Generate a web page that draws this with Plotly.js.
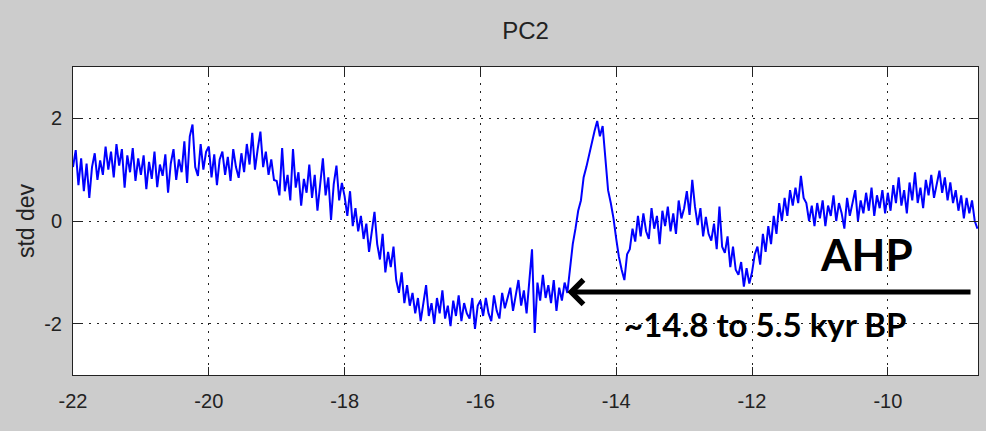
<!DOCTYPE html>
<html>
<head>
<meta charset="utf-8">
<script src="https://cdn.plot.ly/plotly-3.0.1.min.js"></script>
<style>
html, body { margin: 0; padding: 0; background: #cccccc; }
#chart { width: 986px; height: 431px; }
</style>
</head>
<body>
<div id="chart"></div>
<script>
// Time grid (kyr, negative = BP) sampled every 0.04 kyr
const timeStart = -22;
const timeStep = 0.04;

// PC2 values (std dev), one row per kyr
const pc2 = [
  1.05, 1.38, 0.70, 1.22, 0.58, 1.12, 0.45, 1.05, 1.32, 0.80, 1.18, 0.90, 1.45, 1.00, 1.35, 0.85, 1.50, 1.08, 1.40, 0.65, 1.28, 0.95, 1.42, 0.78, 1.22,
  0.90, 1.28, 0.62, 1.15, 0.82, 1.35, 0.66, 1.10, 0.88, 1.30, 0.55, 1.12, 1.40, 0.80, 1.20, 0.95, 1.55, 0.74, 1.65, 1.88, 1.05, 0.88, 1.50, 1.00, 1.35,
  1.45, 0.85, 1.30, 0.70, 1.20, 1.35, 0.90, 1.25, 0.78, 1.40, 1.05, 0.84, 1.32, 0.95, 1.50, 1.10, 1.72, 1.00, 1.40, 1.74, 1.05, 1.35, 0.90, 1.20, 0.80,
  0.78, 0.50, 1.42, 0.58, 0.90, 0.40, 1.40, 0.65, 0.95, 0.30, 0.82, 0.55, 1.10, 0.45, 0.90, 0.20, 0.76, 1.22, 0.50, 0.85, 0.02, 0.72, 1.08, 0.40, 0.74,
  0.48, 0.10, 0.58, -0.10, 0.25, -0.20, 0.10, -0.35, -0.05, -0.60, -0.20, 0.18, -0.45, -0.75, -0.25, -1.00, -0.60, -0.90, -0.50, -1.15, -1.40, -1.00, -1.60, -1.25, -1.65,
  -1.40, -1.80, -1.50, -1.95, -1.55, -1.25, -1.85, -1.60, -2.00, -1.50, -1.80, -1.35, -1.90, -1.65, -2.05, -1.55, -1.85, -1.45, -1.95, -1.60, -1.80, -1.90, -1.50, -2.10, -1.65,
  -1.55, -1.85, -1.50, -1.80, -1.95, -1.45, -1.75, -1.90, -1.40, -1.70, -1.50, -1.30, -1.75, -1.45, -1.15, -1.65, -1.35, -1.80, -1.25, -0.55, -2.18, -1.20, -1.55, -1.05, -1.50,
  -1.25, -1.60, -1.15, -1.75, -1.30, -1.55, -1.20, -1.40, -0.85, -0.45, -0.15, 0.20, 0.40, 0.85, 1.05, 1.30, 1.55, 1.75, 1.95, 1.65, 1.85, 1.25, 0.60, 0.35, 0.05,
  -0.35, -0.70, -0.95, -1.15, -0.65, -0.55, -0.15, -0.40, 0.10, -0.30, 0.15, -0.20, -0.35, 0.25, -0.15, 0.10, -0.45, 0.20, -0.10, 0.28, -0.20, 0.15, -0.25, 0.40, 0.05,
  0.25, 0.58, 0.12, 0.80, 0.28, -0.08, 0.25, -0.30, 0.08, -0.25, -0.38, -0.05, -0.55, 0.28, -0.50, -0.62, -0.30, -0.90, -0.50, -0.95, -1.05, -0.80, -1.28, -0.92, -1.22,
  -1.00, -0.65, -0.50, -0.85, -0.25, -0.60, -0.10, -0.45, 0.10, -0.25, 0.35, 0.00, 0.45, 0.10, 0.60, 0.30, 0.65, 0.35, 0.88, 0.45, 0.35, 0.00, 0.30, -0.10, 0.35,
  0.05, 0.40, -0.10, 0.30, 0.10, 0.50, 0.00, 0.35, 0.15, -0.15, 0.45, 0.10, 0.35, 0.60, 0.00, 0.40, 0.15, 0.55, 0.20, 0.65, 0.10, 0.50, 0.25, 0.60, 0.15,
  0.55, 0.20, 0.70, 0.35, 0.85, 0.30, 0.60, 0.15, 0.75, 0.40, 0.95, 0.35, 0.65, 0.25, 0.80, 0.50, 0.90, 0.45, 0.70, 0.98, 0.55, 0.85, 0.40, 0.75, 0.35,
  0.60, 0.20, 0.50, 0.05, 0.45, 0.15, 0.40, 0.00, -0.15
];

// Axis ticks
const xTicks = [-22, -20, -18, -16, -14, -12, -10];
const yTicks = [-2, 0, 2];

// AHP annotation (arrow from the right edge back to its onset)
const ahpOnset = -14.72;
const ahpArrowTail = -8.76;
const ahpLevel = -1.385;
const ahpLabel = 'AHP';
const ahpRangeLabel = '~14.8 to 5.5 kyr BP';
const ahpLabelPos = [-10.32, -0.65];
const ahpRangePos = [-11.80, -2.0];

const time = pc2.map((_, i) => +(timeStart + i * timeStep).toFixed(2));

const tickFont = { family: '"Liberation Sans", Arial, sans-serif', size: 20, color: '#222' };

const trace = {
  x: time,
  y: pc2,
  type: 'scatter',
  mode: 'lines',
  line: { color: '#0000ff', width: 2 },
  hoverinfo: 'skip'
};

const axisCommon = {
  showgrid: true,
  gridcolor: '#222',
  gridwidth: 1,
  griddash: '2px,6px',
  zeroline: false,
  showline: true,
  linecolor: '#222',
  linewidth: 1,
  mirror: 'ticks',
  ticks: 'inside',
  ticklen: 8,
  tickwidth: 1,
  tickcolor: '#222',
  tickfont: tickFont
};

const layout = {
  width: 986,
  height: 431,
  paper_bgcolor: '#cccccc',
  plot_bgcolor: '#ffffff',
  margin: { l: 73, r: 8, t: 67, b: 56 },
  showlegend: false,
  title: {
    text: 'PC2',
    font: { family: tickFont.family, size: 24, color: '#222' },
    xref: 'paper',
    x: 0.5,
    xanchor: 'center',
    yref: 'container',
    y: 1 - 31 / 431,
    yanchor: 'middle'
  },
  xaxis: Object.assign({}, axisCommon, {
    range: [-22, -8.672],
    tickvals: xTicks,
    ticktext: xTicks.map(String),
    ticklabelstandoff: 8
  }),
  yaxis: Object.assign({}, axisCommon, {
    range: [-3, 3],
    tickvals: yTicks,
    ticktext: yTicks.map(String),
    ticklabelstandoff: 6,
    title: {
      text: 'std dev',
      font: { family: '"Liberation Sans", Arial, sans-serif', size: 23, color: '#222' },
      standoff: 3
    }
  }),
  annotations: [
    {
      x: ahpOnset, y: ahpLevel, xref: 'x', yref: 'y',
      ax: ahpArrowTail, ay: ahpLevel, axref: 'x', ayref: 'y',
      text: '', showarrow: true,
      arrowhead: 4, arrowsize: 0.95, arrowwidth: 5, arrowcolor: '#000000',
      standoff: 0, startstandoff: 0
    },
    {
      x: ahpLabelPos[0], y: ahpLabelPos[1], xref: 'x', yref: 'y',
      text: '<b>' + ahpLabel + '</b>', showarrow: false,
      xanchor: 'center', yanchor: 'middle',
      font: { family: 'Lato, "Open Sans", sans-serif', size: 44, color: '#000000' }
    },
    {
      x: ahpRangePos[0], y: ahpRangePos[1], xref: 'x', yref: 'y',
      text: '<b>' + ahpRangeLabel + '</b>', showarrow: false,
      xanchor: 'center', yanchor: 'middle',
      font: { family: 'Lato, "Open Sans", sans-serif', size: 33, color: '#000000' }
    }
  ]
};

Plotly.newPlot('chart', [trace], layout, { displayModeBar: false, staticPlot: true });
</script>
</body>
</html>
